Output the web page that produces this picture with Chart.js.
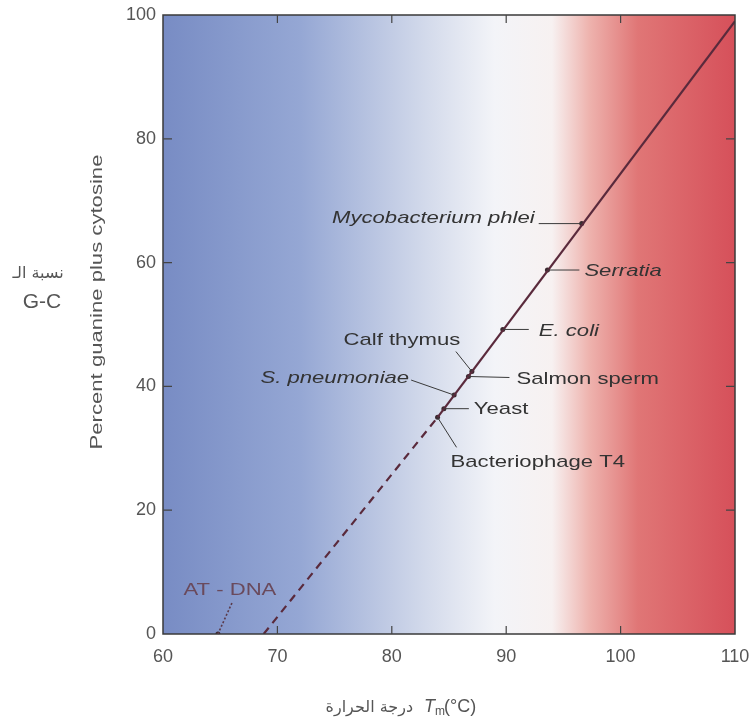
<!DOCTYPE html>
<html>
<head>
<meta charset="utf-8">
<script src="https://cdn.jsdelivr.net/npm/chart.js@4.4.1/dist/chart.umd.min.js"></script>
<style>
  body { margin: 0; background: #fff; }
  canvas { display: block; }
</style>
</head>
<body>
<canvas id="tmChart" width="750" height="722"></canvas>
<script>
// axis ticks
const tempTicks = [60, 70, 80, 90, 100, 110];
const gcTicks = [0, 20, 40, 60, 80, 100];

// DNA sources: melting temperature (C) and percent G+C
const organisms = ['Mycobacterium phlei', 'Serratia', 'E. coli', 'Calf thymus', 'Salmon sperm',
  'S. pneumoniae', 'Yeast', 'Bacteriophage T4', 'AT - DNA'];
const tmValues = [96.6, 93.6, 89.7, 87.0, 86.7, 85.45, 84.55, 84.0, 64.8];
const gcValues = [66.3, 58.8, 49.2, 42.4, 41.6, 38.6, 36.4, 35.0, 0];

// fitted line, solid part and extrapolated (dashed) part
const solidTm = [84.0, 110.0];
const solidGc = [35.0, 99.0];
const dashTm = [68.8, 84.0];
const dashGc = [0, 35.0];

// label placement, pixel offsets from each point (leader start, text anchor)
const labelLayout = [
  { lx: -43, ly: 0, tx: -47, ty: -5, align: 'right', italic: true },
  { lx: 32, ly: 0, tx: 37, ty: 1, align: 'left', italic: true },
  { lx: 26, ly: 0, tx: 36, ty: 2, align: 'left', italic: true },
  { lx: -16, ly: -20, tx: -70, ty: -31, align: 'center', italic: false },
  { lx: 41, ly: 1, tx: 48, ty: 3, align: 'left', italic: false },
  { lx: -43, ly: -15, tx: -45, ty: -17, align: 'right', italic: true },
  { lx: 25, ly: 0, tx: 30, ty: 1, align: 'left', italic: false },
  { lx: 19, ly: 30, tx: 13, ty: 45, align: 'left', italic: false },
  { lx: 14, ly: -31, tx: 12, ty: -44, align: 'center', italic: false, dotted: true }
];

const toPoints = (xs, ys) => xs.map((x, i) => ({ x: x, y: ys[i] }));

function wideText(ctx, text, x, y, align, italic, size, color) {
  ctx.save();
  ctx.font = (italic ? 'italic ' : '') + size + 'px "Liberation Sans", Arial, sans-serif';
  ctx.fillStyle = color;
  ctx.textAlign = align;
  ctx.textBaseline = 'middle';
  ctx.translate(x, y);
  ctx.scale(1.3, 1);
  ctx.fillText(text, 0, 0);
  ctx.restore();
}

const backgroundPlugin = {
  id: 'background',
  beforeDatasetsDraw(chart) {
    const { ctx, chartArea: a } = chart;
    const g = ctx.createLinearGradient(a.left, 0, a.right, 0);
    g.addColorStop(0, '#788cc4');
    g.addColorStop(0.24, '#95a7d4');
    g.addColorStop(0.46, '#d3daeb');
    g.addColorStop(0.58, '#f3f4f8');
    g.addColorStop(0.68, '#f7f1f1');
    g.addColorStop(0.745, '#eeb3ae');
    g.addColorStop(0.83, '#e07676');
    g.addColorStop(1, '#d6505a');
    ctx.save();
    ctx.fillStyle = g;
    ctx.fillRect(a.left, a.top, a.right - a.left, a.bottom - a.top);
    ctx.restore();
  }
};

const framePlugin = {
  id: 'frame',
  afterDatasetsDraw(chart) {
    const { ctx, chartArea: a, scales } = chart;
    ctx.save();
    ctx.strokeStyle = '#3a3a3a';
    ctx.lineWidth = 1.5;
    ctx.strokeRect(a.left, a.top, a.right - a.left, a.bottom - a.top);
    // inward ticks
    ctx.lineWidth = 1.2;
    ctx.strokeStyle = '#444';
    ctx.beginPath();
    tempTicks.slice(1, -1).forEach(v => {
      const px = scales.x.getPixelForValue(v);
      ctx.moveTo(px, a.top); ctx.lineTo(px, a.top + 8);
      ctx.moveTo(px, a.bottom); ctx.lineTo(px, a.bottom - 8);
    });
    gcTicks.slice(1, -1).forEach(v => {
      const py = scales.y.getPixelForValue(v);
      ctx.moveTo(a.left, py); ctx.lineTo(a.left + 9, py);
      ctx.moveTo(a.right, py); ctx.lineTo(a.right - 9, py);
    });
    ctx.stroke();

    // leaders and labels
    const meta = chart.getDatasetMeta(2);
    meta.data.forEach((pt, i) => {
      const l = labelLayout[i];
      ctx.beginPath();
      ctx.strokeStyle = l.dotted ? '#5a3a4a' : '#3a3a3a';
      ctx.lineWidth = l.dotted ? 1.6 : 1;
      ctx.setLineDash(l.dotted ? [2, 2] : []);
      ctx.moveTo(pt.x + l.lx, pt.y + l.ly);
      ctx.lineTo(pt.x, pt.y);
      ctx.stroke();
      ctx.setLineDash([]);
      wideText(ctx, organisms[i], pt.x + l.tx, pt.y + l.ty, l.align, l.italic, 17,
        l.dotted ? '#6a4a5c' : '#333');
    });

    // axis titles
    ctx.save();
    ctx.translate(97, 302);
    ctx.rotate(-Math.PI / 2);
    wideText(ctx, 'Percent guanine plus cytosine', 0, 0, 'center', false, 17, '#555');
    ctx.restore();

    ctx.font = '16px "DejaVu Sans", sans-serif';
    ctx.fillStyle = '#555';
    ctx.textAlign = 'center';
    ctx.textBaseline = 'middle';
    ctx.fillText('نسبة الـ', 38, 274);
    ctx.font = '21px "Liberation Sans", Arial, sans-serif';
    ctx.fillText('G-C', 42, 302);

    ctx.font = '16px "DejaVu Sans", sans-serif';
    ctx.textAlign = 'right';
    ctx.fillText('درجة الحرارة', 413, 708);
    ctx.textAlign = 'left';
    ctx.font = 'italic 18px "Liberation Sans", Arial, sans-serif';
    ctx.fillText('T', 424, 707);
    ctx.font = '12px "Liberation Sans", Arial, sans-serif';
    ctx.fillText('m', 435, 712);
    ctx.font = '18px "Liberation Sans", Arial, sans-serif';
    ctx.fillText('(°C)', 444, 707);
    ctx.restore();
  }
};

new Chart(document.getElementById('tmChart'), {
  type: 'scatter',
  data: {
    datasets: [
      {
        data: toPoints(dashTm, dashGc),
        showLine: true,
        borderColor: '#5a2a3c',
        borderWidth: 2.2,
        borderDash: [8, 6],
        pointRadius: 0
      },
      {
        data: toPoints(solidTm, solidGc),
        showLine: true,
        borderColor: '#5a2a3c',
        borderWidth: 2.2,
        pointRadius: 0
      },
      {
        data: toPoints(tmValues, gcValues),
        pointRadius: 2.5,
        backgroundColor: '#3a2a30',
        borderColor: '#3a2a30',
        borderWidth: 0
      }
    ]
  },
  options: {
    responsive: false,
    animation: false,
    devicePixelRatio: 1,
    layout: { padding: { top: 15, right: 15, left: 0, bottom: 0 } },
    plugins: {
      legend: { display: false },
      tooltip: { enabled: false }
    },
    scales: {
      x: {
        type: 'linear',
        min: 60,
        max: 110,
        afterBuildTicks: s => { s.ticks = tempTicks.map(v => ({ value: v })); },
        afterFit: s => { s.height = 88; s.paddingLeft = 0; s.paddingRight = 0; },
        grid: { display: false, drawTicks: false },
        border: { display: false },
        ticks: {
          padding: 12,
          color: '#555',
          font: { family: '"Liberation Sans", Arial, sans-serif', size: 18 }
        }
      },
      y: {
        min: 0,
        max: 100,
        afterBuildTicks: s => { s.ticks = gcTicks.map(v => ({ value: v })); },
        afterFit: s => { s.width = 163; s.paddingTop = 0; s.paddingBottom = 0; },
        grid: { display: false, drawTicks: false },
        border: { display: false },
        ticks: {
          padding: 7,
          color: '#555',
          font: { family: '"Liberation Sans", Arial, sans-serif', size: 18 }
        }
      }
    }
  },
  plugins: [backgroundPlugin, framePlugin]
});
</script>
</body>
</html>
